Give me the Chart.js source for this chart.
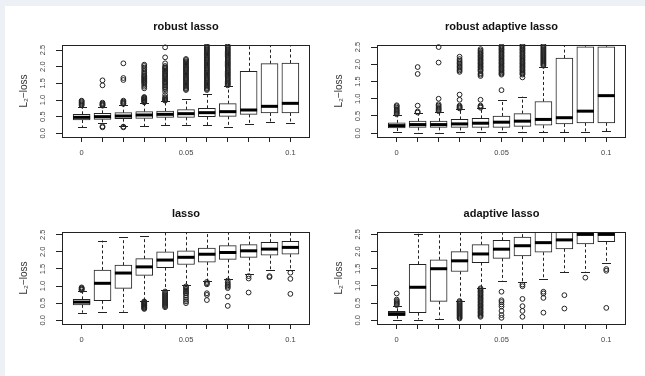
<!DOCTYPE html>
<html>
<head>
<meta charset="utf-8">
<script src="https://cdn.jsdelivr.net/npm/chart.js@4.4.1/dist/chart.umd.min.js"></script>
<style>
  html, body { margin:0; padding:0; }
  body { width:645px; height:376px; background:#edf0f5; position:relative; overflow:hidden; }
  #paper { position:absolute; left:5px; top:6px; width:640px; height:370px; background:#ffffff; }
  canvas { position:absolute; }
</style>
</head>
<body>
<div id="paper"></div>
<canvas id="p1" width="322" height="188" style="left:0px;top:0px"></canvas>
<canvas id="p2" width="323" height="188" style="left:322px;top:0px"></canvas>
<canvas id="p3" width="322" height="188" style="left:0px;top:187px"></canvas>
<canvas id="p4" width="323" height="188" style="left:322px;top:187px"></canvas>
<script>
// ---------- shared axis data ----------
const lambdas = [0, 0.01, 0.02, 0.03, 0.04, 0.05, 0.06, 0.07, 0.08, 0.09, 0.1];
const xTickLabels = ['0', '', '', '', '', '0.05', '', '', '', '', '0.1'];
const yTickValues = [0, 0.5, 1, 1.5, 2, 2.5];
const yTickLabels = ['0.0', '0.5', '1.0', '1.5', '2.0', '2.5'];
const panelTitles = ['robust lasso', 'robust adaptive lasso', 'lasso', 'adaptive lasso'];
const yAxisTitle = 'L\u2082\u2212loss';

// ---------- robust lasso ----------
const rlLow  = [0.18, 0.30, 0.22, 0.22, 0.25, 0.26, 0.25, 0.18, 0.28, 0.34, 0.32];
const rlQ1   = [0.40, 0.42, 0.44, 0.45, 0.48, 0.48, 0.50, 0.51, 0.57, 0.61, 0.61];
const rlMed  = [0.48, 0.50, 0.52, 0.55, 0.57, 0.59, 0.62, 0.65, 0.70, 0.81, 0.90];
const rlQ3   = [0.57, 0.60, 0.62, 0.65, 0.67, 0.71, 0.75, 0.89, 1.86, 2.09, 2.11];
const rlHigh = [0.80, 0.80, 0.84, 0.90, 0.96, 1.04, 1.17, 1.43, 2.80, 2.80, 2.80];
const rlOut = [
  [0.84, 0.87, 0.90, 0.93, 0.96, 0.98],
  [0.18, 0.21, 0.83, 0.85, 0.87, 0.89, 0.92, 1.44, 1.59],
  [0.18, 0.20, 0.88, 0.90, 0.92, 0.95, 0.98, 1.60, 1.66, 2.10],
  [0.93, 0.95, 0.97, 0.99, 1.01, 1.03, 1.05, 1.07, 1.09, 1.35, 1.40, 1.45, 1.50, 1.53, 1.56, 1.59, 1.62, 1.65, 1.68, 1.71, 1.74, 1.78, 1.82, 1.87, 1.92, 1.97, 2.02, 2.06],
  [0.98, 1.00, 1.02, 1.05, 1.08, 1.15, 1.25, 1.32, 1.36, 1.40, 1.44, 1.48, 1.52, 1.55, 1.58, 1.62, 1.65, 1.68, 1.72, 1.75, 1.78, 1.82, 1.85, 1.88, 1.92, 1.95, 1.98, 2.02, 2.10, 2.28, 2.58],
  [1.30, 1.33, 1.36, 1.40, 1.43, 1.46, 1.50, 1.53, 1.56, 1.60, 1.63, 1.66, 1.70, 1.73, 1.76, 1.80, 1.83, 1.86, 1.90, 1.93, 1.96, 2.00, 2.03, 2.06, 2.10, 2.13, 2.16, 2.20, 2.23],
  [1.30, 1.33, 1.36, 1.40, 1.43, 1.46, 1.50, 1.53, 1.56, 1.60, 1.63, 1.66, 1.70, 1.73, 1.76, 1.80, 1.83, 1.86, 1.90, 1.93, 1.96, 2.00, 2.03, 2.06, 2.10, 2.13, 2.16, 2.20, 2.23, 2.26, 2.30, 2.33, 2.36, 2.40, 2.43, 2.46, 2.50, 2.53, 2.56, 2.60, 2.63],
  [1.44, 1.47, 1.50, 1.53, 1.56, 1.60, 1.63, 1.66, 1.70, 1.73, 1.76, 1.80, 1.83, 1.86, 1.90, 1.93, 1.96, 2.00, 2.03, 2.06, 2.10, 2.13, 2.16, 2.20, 2.23, 2.26, 2.30, 2.33, 2.36, 2.40, 2.43, 2.46, 2.50, 2.53, 2.56, 2.60, 2.63],
  [], [], []
];

// ---------- robust adaptive lasso ----------
const raLow  = [0.03, 0.00, 0.00, 0.03, 0.03, 0.03, 0.03, 0.03, 0.03, 0.03, 0.05];
const raQ1   = [0.15, 0.17, 0.17, 0.17, 0.17, 0.17, 0.20, 0.23, 0.27, 0.30, 0.30];
const raMed  = [0.22, 0.25, 0.25, 0.27, 0.29, 0.32, 0.35, 0.40, 0.45, 0.64, 1.09];
const raQ3   = [0.30, 0.35, 0.35, 0.40, 0.43, 0.50, 0.57, 0.92, 2.18, 2.51, 2.51];
const raHigh = [0.52, 0.58, 0.62, 0.70, 0.72, 0.96, 1.06, 1.93, 2.80, 2.80, 2.80];
const raOut = [
  [0.55, 0.58, 0.61, 0.64, 0.67, 0.70, 0.74, 0.78, 0.81],
  [0.60, 0.63, 0.80, 1.72, 1.92],
  [0.64, 0.67, 0.70, 0.73, 0.76, 0.80, 0.84, 1.00, 2.05, 2.50],
  [0.72, 0.74, 0.77, 0.80, 0.97, 1.12, 1.78, 1.82, 1.86, 1.90, 1.94, 1.98, 2.02, 2.06, 2.10, 2.15, 2.22],
  [0.74, 0.77, 0.80, 0.97, 1.66, 1.70, 1.74, 1.80, 1.83, 1.86, 1.90, 1.93, 1.96, 2.00, 2.03, 2.06, 2.10, 2.13, 2.16, 2.20, 2.23, 2.26, 2.30, 2.33, 2.36, 2.40, 2.44],
  [1.25, 1.70, 1.73, 1.76, 1.80, 1.83, 1.86, 1.90, 1.93, 1.96, 2.00, 2.03, 2.06, 2.10, 2.13, 2.16, 2.20, 2.23, 2.26, 2.30, 2.33, 2.36, 2.40, 2.43, 2.46, 2.50, 2.53],
  [1.62, 1.70, 1.73, 1.76, 1.80, 1.83, 1.86, 1.90, 1.93, 1.96, 2.00, 2.03, 2.06, 2.10, 2.13, 2.16, 2.20, 2.23, 2.26, 2.30, 2.33, 2.36, 2.40, 2.43, 2.46, 2.50, 2.53, 2.56],
  [1.96, 1.99, 2.02, 2.05, 2.08, 2.11, 2.14, 2.17, 2.20, 2.23, 2.26, 2.29, 2.32, 2.35, 2.38, 2.41, 2.44, 2.47, 2.50, 2.53, 2.56],
  [], [], []
];

// ---------- lasso ----------
const laLow  = [0.22, 0.25, 0.25, 0.56, 0.87, 1.02, 1.14, 1.22, 1.34, 1.46, 1.46];
const laQ1   = [0.45, 0.57, 0.93, 1.31, 1.54, 1.63, 1.70, 1.78, 1.84, 1.90, 1.93];
const laMed  = [0.53, 1.08, 1.38, 1.56, 1.76, 1.84, 1.93, 1.98, 2.03, 2.08, 2.13];
const laQ3   = [0.61, 1.47, 1.61, 1.80, 2.00, 2.03, 2.11, 2.18, 2.21, 2.28, 2.31];
const laHigh = [0.85, 2.33, 2.42, 2.45, 2.80, 2.80, 2.80, 2.80, 2.80, 2.80, 2.80];
const laOut = [
  [0.88, 0.90, 0.92, 0.94, 0.96],
  [],
  [],
  [0.33, 0.35, 0.37, 0.39, 0.41, 0.43, 0.45, 0.47, 0.49, 0.51, 0.53, 0.55],
  [0.38, 0.41, 0.44, 0.47, 0.50, 0.53, 0.56, 0.59, 0.62, 0.65, 0.68, 0.71, 0.74, 0.77, 0.80, 0.84],
  [0.50, 0.55, 0.60, 0.66, 0.72, 0.78, 0.80, 0.84, 0.88, 0.92, 0.96, 0.99],
  [0.59, 0.74, 0.79, 1.05, 1.08, 1.12],
  [0.42, 0.69, 0.94, 0.98, 1.02, 1.06, 1.10, 1.16],
  [0.81, 1.22, 1.29],
  [1.26, 1.29],
  [0.77, 1.21, 1.39]
];

// ---------- adaptive lasso ----------
const adLow  = [0.02, 0.02, 0.05, 0.57, 0.95, 1.15, 1.10, 1.20, 1.41, 1.41, 1.67];
const adQ1   = [0.13, 0.22, 0.55, 1.42, 1.68, 1.80, 1.87, 1.98, 2.08, 2.22, 2.29];
const adMed  = [0.19, 0.96, 1.50, 1.73, 1.93, 2.07, 2.17, 2.26, 2.34, 2.50, 2.50];
const adQ3   = [0.26, 1.63, 1.76, 2.00, 2.20, 2.33, 2.42, 2.80, 2.80, 2.80, 2.80];
const adHigh = [0.40, 2.52, 2.80, 2.80, 2.80, 2.80, 2.80, 2.80, 2.80, 2.80, 2.80];
const adOut = [
  [0.44, 0.47, 0.50, 0.53, 0.56, 0.60, 0.78],
  [],
  [],
  [0.05, 0.08, 0.11, 0.14, 0.17, 0.20, 0.23, 0.26, 0.29, 0.32, 0.35, 0.38, 0.41, 0.44, 0.47, 0.50, 0.53, 0.56],
  [0.10, 0.13, 0.16, 0.20, 0.23, 0.26, 0.30, 0.33, 0.36, 0.40, 0.43, 0.46, 0.50, 0.53, 0.56, 0.60, 0.63, 0.66, 0.70, 0.73, 0.76, 0.80, 0.83, 0.86, 0.90, 0.93],
  [0.07, 0.15, 0.27, 0.40, 0.46, 0.53, 0.58, 0.83],
  [0.10, 0.27, 0.41, 0.62, 0.99, 1.04],
  [0.22, 0.65, 0.78, 0.83],
  [0.34, 0.73],
  [1.24],
  [0.36, 1.44, 1.49]
];

// ---------- drawing ----------
const FONT = "'Liberation Sans', Arial, Helvetica, sans-serif";
const INK = '#222222';
const BOX_W = 17;

function boxExtrasPlugin(stats) {
  return {
    id: 'boxExtras',
    afterDatasetsDraw(chart) {
      const ctx = chart.ctx, a = chart.chartArea;
      const xs = chart.scales.x, ys = chart.scales.y;
      const seg = (x1, y1, x2, y2) => { ctx.beginPath(); ctx.moveTo(x1, y1); ctx.lineTo(x2, y2); ctx.stroke(); };
      ctx.save();
      ctx.beginPath();
      ctx.rect(a.left, a.top, a.right - a.left, a.bottom - a.top);
      ctx.clip();
      ctx.strokeStyle = INK;
      lambdas.forEach((xv, i) => {
        const px = xs.getPixelForValue(xv);
        const cx = Math.round(px) + 0.5;
        const yLo = ys.getPixelForValue(stats.low[i]);
        const yQ1 = ys.getPixelForValue(stats.q1[i]);
        const yMed = ys.getPixelForValue(stats.med[i]);
        const yQ3 = ys.getPixelForValue(stats.q3[i]);
        const yHi = ys.getPixelForValue(stats.high[i]);
        ctx.lineWidth = 1;
        ctx.setLineDash([3, 2.5]);
        seg(cx, yQ3, cx, yHi);
        seg(cx, yQ1, cx, yLo);
        ctx.setLineDash([]);
        seg(cx - 4.5, Math.round(yHi) + 0.5, cx + 4.5, Math.round(yHi) + 0.5);
        seg(cx - 4.5, Math.round(yLo) + 0.5, cx + 4.5, Math.round(yLo) + 0.5);
        ctx.lineWidth = 3;
        ctx.strokeStyle = '#000';
        seg(px - BOX_W / 2, yMed, px + BOX_W / 2, yMed);
        ctx.strokeStyle = INK;
      });
      ctx.restore();
      ctx.save();
      ctx.strokeStyle = INK;
      ctx.lineWidth = 1;
      ctx.strokeRect(Math.round(a.left) + 0.5, Math.round(a.top) + 0.5,
                     Math.round(a.right) - Math.round(a.left) - 1, Math.round(a.bottom) - Math.round(a.top));
      ctx.restore();
    }
  };
}

function makePanel(id, title, low, q1, med, q3, high, out, yMin, yMax, padL, padR) {
  const boxes = lambdas.map((x, i) => ({ x: x, y: [q1[i], q3[i]] }));
  const pts = [];
  out.forEach((arr, i) => arr.forEach(v => pts.push({ x: lambdas[i], y: v })));
  new Chart(document.getElementById(id), {
    type: 'bar',
    data: {
      datasets: [
        {
          type: 'bar', data: boxes, barThickness: BOX_W,
          backgroundColor: '#ffffff', borderColor: INK, borderWidth: 1,
          borderSkipped: false, clip: 0
        },
        {
          type: 'scatter', data: pts, pointStyle: 'circle', pointRadius: 2.4,
          pointBorderWidth: 1, pointBorderColor: INK,
          pointBackgroundColor: 'rgba(0,0,0,0)', clip: 1
        }
      ]
    },
    options: {
      responsive: false, animation: false, devicePixelRatio: 1,
      layout: { padding: { left: padL, right: padR, top: 20, bottom: 21 } },
      plugins: {
        legend: { display: false },
        tooltip: { enabled: false },
        title: {
          display: true, text: title, fullSize: false, color: '#111',
          font: { family: FONT, size: 11, weight: 'bold', lineHeight: 1.2 },
          padding: { top: 0, bottom: 11.8 }
        }
      },
      scales: {
        x: {
          type: 'linear', min: -0.0094, max: 0.1094, offset: false,
          afterBuildTicks: s => { s.ticks = lambdas.map(v => ({ value: v })); },
          afterFit: s => { s.height = 30; },
          grid: { offset: false, drawOnChartArea: false, drawTicks: true, tickLength: 5, tickColor: INK, color: INK },
          border: { display: false },
          ticks: {
            autoSkip: false, maxRotation: 0, minRotation: 0, padding: 6, color: '#444',
            font: { family: FONT, size: 7.5 },
            callback: (v, i) => xTickLabels[i]
          }
        },
        y: {
          type: 'linear', min: yMin, max: yMax,
          afterBuildTicks: s => { s.ticks = yTickValues.map(v => ({ value: v })); },
          afterFit: s => { s.width = 44; },
          grid: { drawOnChartArea: false, drawTicks: true, tickLength: 6, tickColor: INK, color: INK },
          border: { display: false },
          title: {
            display: true, text: yAxisTitle, color: '#333',
            font: { family: FONT, size: 10 }, padding: 0
          },
          ticks: {
            autoSkip: false, minRotation: 90, maxRotation: 90, crossAlign: 'center',
            padding: 8, color: '#444', font: { family: FONT, size: 7.5 },
            callback: (v, i) => yTickLabels[i]
          }
        }
      }
    },
    plugins: [boxExtrasPlugin({ low: low, q1: q1, med: med, q3: q3, high: high })]
  });
}

makePanel('p1', panelTitles[0], rlLow, rlQ1, rlMed, rlQ3, rlHigh, rlOut, -0.11, 2.65, 18, 12);
makePanel('p2', panelTitles[1], raLow, raQ1, raMed, raQ3, raHigh, raOut, -0.11, 2.56, 11, 19);
makePanel('p3', panelTitles[2], laLow, laQ1, laMed, laQ3, laHigh, laOut, -0.11, 2.58, 18, 12);
makePanel('p4', panelTitles[3], adLow, adQ1, adMed, adQ3, adHigh, adOut, -0.11, 2.57, 11, 19);
</script>
</body>
</html>
